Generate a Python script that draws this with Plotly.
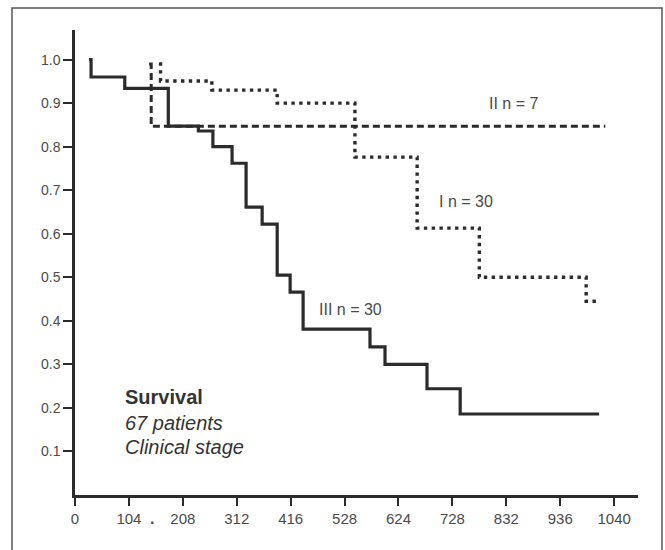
import plotly.graph_objects as go

# ---- data ----
stage3_days = [27, 31, 96, 180, 238, 266, 303, 330, 361, 390, 415, 440, 569, 598, 679, 743, 1011]
stage3_surv = [1.0, 0.96, 0.934, 0.847, 0.836, 0.80, 0.762, 0.661, 0.622, 0.505, 0.466, 0.381, 0.34, 0.30, 0.244, 0.186, 0.186]

stage2_days = [143, 147, 1023]
stage2_surv = [0.99, 0.847, 0.847]

stage1_days = [162, 165, 264, 390, 540, 660, 780, 986, 1007]
stage1_surv = [0.99, 0.951, 0.930, 0.900, 0.776, 0.613, 0.50, 0.445, 0.445]

x_tickvals = [0, 104, 208, 312, 416, 520, 624, 728, 832, 936, 1040]
x_ticktext = ["0", "104", "208", "312", "416", "528", "624", "728", "832", "936", "1040"]
y_tickvals = [0.1, 0.2, 0.3, 0.4, 0.5, 0.6, 0.7, 0.8, 0.9, 1.0]
y_ticktext = ["0.1", "0.2", "0.3", "0.4", "0.5", "0.6", "0.7", "0.8", "0.9", "1.0"]

curve_labels = ["III n = 30", "II n = 7", "I n = 30"]
label_pos = [(532, 0.427), (845, 0.90), (754, 0.673)]
title_lines = ["<b>Survival</b>", "<i>67 patients</i>", "<i>Clinical stage</i>"]

INK = "#2b2b2b"
TXT = "#4a4a4a"
FONT = "Liberation Sans, Arial, sans-serif"

fig = go.Figure()
fig.add_trace(go.Scatter(x=stage3_days, y=stage3_surv, mode="lines",
                         line=dict(shape="hv", color=INK, width=3.2),
                         hoverinfo="skip"))
fig.add_trace(go.Scatter(x=stage2_days, y=stage2_surv, mode="lines",
                         line=dict(shape="hv", color=INK, width=3, dash="7px,4px"),
                         hoverinfo="skip"))
fig.add_trace(go.Scatter(x=stage1_days, y=stage1_surv, mode="lines",
                         line=dict(shape="hv", color=INK, width=3.4, dash="3.4px,4.4px"),
                         hoverinfo="skip"))

annotations = []
for txt, (ax, ay) in zip(curve_labels, label_pos):
    annotations.append(dict(x=ax, y=ay, xref="x", yref="y", text=txt, showarrow=False,
                            font=dict(family=FONT, size=16, color=TXT)))
for i, t in enumerate(title_lines):
    annotations.append(dict(x=92, y=[0.225, 0.165, 0.11][i], xref="x", yref="y",
                            text=t, showarrow=False, xanchor="left",
                            font=dict(family=FONT, size=20, color="#333")))
annotations.append(dict(x=148, y=-0.073, xref="x", yref="paper", text="<b>.</b>",
                        showarrow=False, font=dict(family=FONT, size=16, color=TXT)))

fig.update_layout(
    width=665, height=550,
    margin=dict(l=75, r=27, t=30, b=55),
    paper_bgcolor="white", plot_bgcolor="white",
    showlegend=False,
    annotations=annotations,
    shapes=[dict(type="rect", xref="paper", yref="paper",
                 x0=(12 - 75) / 563, x1=(662 - 75) / 563,
                 y0=-0.3, y1=(495 - 8) / 465,
                 line=dict(color="#555", width=1.5), layer="below")],
    xaxis=dict(range=[0, 1086], showgrid=False, zeroline=False,
               showline=True, linecolor=INK, linewidth=2.5,
               ticks="outside", ticklen=8, tickwidth=2, tickcolor=INK,
               tickvals=x_tickvals, ticktext=x_ticktext,
               tickfont=dict(family=FONT, size=15, color=TXT)),
    yaxis=dict(range=[0, 1.068], showgrid=False, zeroline=False,
               showline=True, linecolor=INK, linewidth=2.5,
               ticks="outside", ticklen=9, tickwidth=2, tickcolor=INK,
               tickvals=y_tickvals, ticktext=y_ticktext,
               tickfont=dict(family=FONT, size=14, color=TXT)),
)

fig.write_html("out.html")
